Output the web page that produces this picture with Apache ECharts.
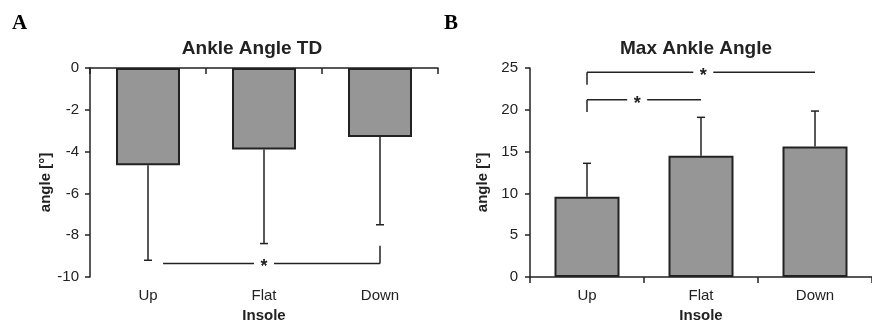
<!DOCTYPE html>
<html>
<head>
<meta charset="utf-8">
<script src="https://cdn.jsdelivr.net/npm/echarts@6/dist/echarts.min.js"></script>
<style>
  html, body { margin: 0; padding: 0; background: #fff; }
  #chart { width: 872px; height: 328px; }
</style>
</head>
<body>
<div id="chart"></div>
<script>
const insoles = ["Up", "Flat", "Down"];

// A: ankle angle at touch-down (mean, mean - SD)
const meanTD = [-4.65, -3.9, -3.3];
const errTD = [-9.2, -8.4, -7.5];
// B: max ankle angle (mean, mean + SD)
const meanMax = [9.6, 14.5, 15.6];
const errMax = [13.6, 19.1, 19.85];

// significance brackets: [from, to, level, legAt, legEnd, starAt]
const bracketsTD = [[0.13, 2, -9.35, 2, -8.5, 1]];
const bracketsMax = [
  [0, 2, 24.5, 0, 23, 1.02],
  [0, 1, 21.2, 0, 19.75, 0.44]
];

const ink = "#222";
const font = "Liberation Sans";

function renderError(params, api) {
  const base = api.coord([api.value(0), api.value(1)]);
  const end = api.coord([api.value(0), api.value(2)]);
  const style = { stroke: ink, lineWidth: 1.5 };
  return {
    type: "group",
    children: [
      { type: "line", shape: { x1: base[0], y1: base[1], x2: end[0], y2: end[1] }, style },
      { type: "line", shape: { x1: end[0] - 4, y1: end[1], x2: end[0] + 4, y2: end[1] }, style }
    ]
  };
}

function renderBracket(params, api) {
  const a = api.coord([api.value(0), api.value(2)]);
  const b = api.coord([api.value(1), api.value(2)]);
  const legTop = api.coord([api.value(3), api.value(2)]);
  const legEnd = api.coord([api.value(3), api.value(4)]);
  const s = api.coord([api.value(5), api.value(2)]);
  const gap = 10;
  const style = { stroke: ink, lineWidth: 1.5 };
  return {
    type: "group",
    children: [
      { type: "line", shape: { x1: legTop[0], y1: legTop[1], x2: legEnd[0], y2: legEnd[1] }, style },
      { type: "line", shape: { x1: a[0], y1: a[1], x2: s[0] - gap, y2: s[1] }, style },
      { type: "line", shape: { x1: s[0] + gap, y1: s[1], x2: b[0], y2: b[1] }, style },
      {
        type: "text",
        style: {
          text: "*", x: s[0], y: s[1] + 4, align: "center", verticalAlign: "middle",
          font: "bold 18px " + font, fill: ink
        }
      }
    ]
  };
}

const labelStyle = { fontFamily: font, fontSize: 15, color: ink };
const nameStyle = { fontFamily: font, fontSize: 15, fontWeight: "bold", color: ink };
// y names sit a little below the middle of the axis
const yNameStyle = { ...nameStyle, padding: [0, 20, 0, 0] };
const panelLetter = { fontFamily: "Liberation Serif", fontWeight: "bold", fontSize: 21, color: "#000" };
const titleStyle = { fontFamily: font, fontWeight: "bold", fontSize: 19, color: ink };
const tickStyle = { show: true, interval: 0, length: 6, lineStyle: { color: ink, width: 1.5 } };

const chart = echarts.init(document.getElementById("chart"));

const option = {
  animation: false,
  backgroundColor: "#fff",
  title: [
    { text: "A", left: 12, top: 13, padding: 0, textStyle: panelLetter },
    { text: "B", left: 444, top: 13, padding: 0, textStyle: panelLetter },
    { text: "Ankle Angle TD", left: 252, top: 39, padding: 0, textAlign: "center", textStyle: titleStyle },
    { text: "Max Ankle Angle", left: 696, top: 39, padding: 0, textAlign: "center", textStyle: titleStyle }
  ],
  grid: [
    { left: 90, top: 68, width: 348, height: 211 },
    { left: 530, top: 68, width: 351, height: 211 }
  ],
  xAxis: [
    {
      gridIndex: 0, type: "category", data: insoles, position: "bottom",
      axisLine: { show: false }, axisTick: { show: false },
      axisLabel: { ...labelStyle, margin: 11 },
      name: "Insole", nameLocation: "middle", nameGap: 31, nameTextStyle: nameStyle
    },
    {
      gridIndex: 0, type: "category", data: insoles, position: "top",
      axisLine: { show: true, onZero: false, lineStyle: { color: ink, width: 1.5 } },
      axisTick: { ...tickStyle, inside: true },
      axisLabel: { show: false }
    },
    { gridIndex: 0, type: "value", min: -0.5, max: 2.5, show: false },
    {
      gridIndex: 1, type: "category", data: insoles, position: "bottom",
      axisLine: { show: true, lineStyle: { color: ink, width: 1.5 } },
      axisTick: tickStyle,
      axisLabel: { ...labelStyle, margin: 11 },
      name: "Insole", nameLocation: "middle", nameGap: 31, nameTextStyle: nameStyle
    },
    { gridIndex: 1, type: "value", min: -0.5, max: 2.5, show: false }
  ],
  yAxis: [
    {
      gridIndex: 0, type: "value", min: -10, max: 0, interval: 2,
      axisLine: { show: true, onZero: false, lineStyle: { color: ink, width: 1.5 } },
      axisTick: { ...tickStyle, length: 5 },
      axisLabel: { ...labelStyle, margin: 11 },
      splitLine: { show: false },
      name: "angle [°]", nameLocation: "middle", nameGap: 28, nameTextStyle: yNameStyle
    },
    {
      gridIndex: 1, type: "value", min: 0, max: 25, interval: 5,
      axisLine: { show: true, onZero: false, lineStyle: { color: ink, width: 1.5 } },
      axisTick: { ...tickStyle, length: 5 },
      axisLabel: { ...labelStyle, margin: 12 },
      splitLine: { show: false },
      name: "angle [°]", nameLocation: "middle", nameGap: 40, nameTextStyle: yNameStyle
    }
  ],
  series: [
    {
      type: "bar", xAxisIndex: 0, yAxisIndex: 0, data: meanTD, barWidth: 64,
      itemStyle: { color: "#969696", borderColor: ink, borderWidth: 2 }
    },
    {
      type: "custom", xAxisIndex: 0, yAxisIndex: 0, renderItem: renderError, z: 5,
      encode: { x: 0, y: [1, 2] },
      data: meanTD.map((m, i) => [i, m, errTD[i]])
    },
    {
      type: "custom", xAxisIndex: 2, yAxisIndex: 0, renderItem: renderBracket, z: 5, clip: false,
      encode: { x: [0, 1, 3, 5], y: [2, 4] },
      data: bracketsTD
    },
    {
      type: "bar", xAxisIndex: 3, yAxisIndex: 1, data: meanMax, barWidth: 65,
      itemStyle: { color: "#969696", borderColor: ink, borderWidth: 2 }
    },
    {
      type: "custom", xAxisIndex: 3, yAxisIndex: 1, renderItem: renderError, z: 5,
      encode: { x: 0, y: [1, 2] },
      data: meanMax.map((m, i) => [i, m, errMax[i]])
    },
    {
      type: "custom", xAxisIndex: 4, yAxisIndex: 1, renderItem: renderBracket, z: 5, clip: false,
      encode: { x: [0, 1, 3, 5], y: [2, 4] },
      data: bracketsMax
    }
  ]
};

chart.setOption(option);
</script>
</body>
</html>
